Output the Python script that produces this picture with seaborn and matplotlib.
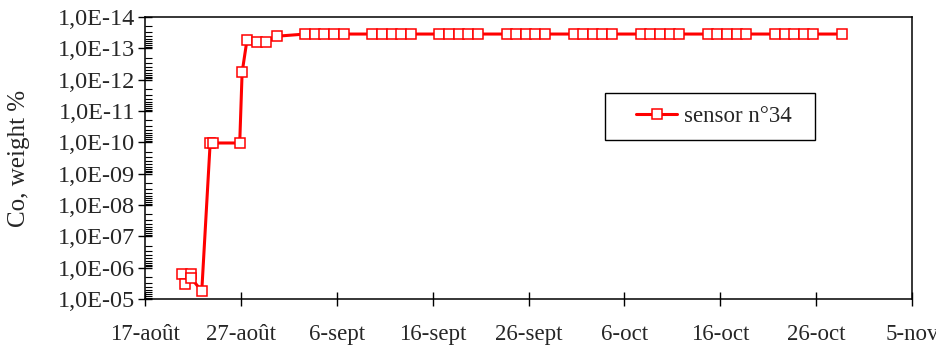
import matplotlib
matplotlib.use("Agg")
import matplotlib.pyplot as plt
import matplotlib.ticker as mticker
from matplotlib.patches import Rectangle
import numpy as np
import pandas as pd
import seaborn as sns

# sampling times and Co content of sensor n°34
sample_times = [
    "2001-08-20 21:00", "2001-08-21 04:00", "2001-08-21 19:00", "2001-08-21 20:00",
    "2001-08-22 22:00", "2001-08-23 19:00", "2001-08-24 02:00", "2001-08-26 21:00",
    "2001-08-27 03:00", "2001-08-27 15:00", "2001-08-28 17:00", "2001-08-29 16:00",
    "2001-08-30 19:00",
    "2001-09-02 17:00", "2001-09-03 17:00", "2001-09-04 17:00", "2001-09-05 17:00", "2001-09-06 17:00",
    "2001-09-09 17:00", "2001-09-10 17:00", "2001-09-11 17:00", "2001-09-12 17:00", "2001-09-13 17:00",
    "2001-09-16 17:00", "2001-09-17 17:00", "2001-09-18 17:00", "2001-09-19 17:00", "2001-09-20 17:00",
    "2001-09-23 17:00", "2001-09-24 17:00", "2001-09-25 17:00", "2001-09-26 17:00", "2001-09-27 17:00",
    "2001-09-30 17:00", "2001-10-01 17:00", "2001-10-02 17:00", "2001-10-03 17:00", "2001-10-04 17:00",
    "2001-10-07 17:00", "2001-10-08 17:00", "2001-10-09 17:00", "2001-10-10 17:00", "2001-10-11 17:00",
    "2001-10-14 17:00", "2001-10-15 17:00", "2001-10-16 17:00", "2001-10-17 17:00", "2001-10-18 17:00",
    "2001-10-21 17:00", "2001-10-22 17:00", "2001-10-23 17:00", "2001-10-24 17:00", "2001-10-25 17:00",
    "2001-10-28 17:00",
]
co_weight = [
    1.58e-6, 3.27e-6, 1.6e-6, 2.2e-6,
    5.6e-6, 1.05e-10, 1.05e-10, 1.05e-10,
    5.9e-13, 5.6e-14, 6.3e-14, 6.3e-14,
    4.1e-14,
    3.5e-14, 3.5e-14, 3.5e-14, 3.5e-14, 3.5e-14,
    3.5e-14, 3.5e-14, 3.5e-14, 3.5e-14, 3.5e-14,
    3.5e-14, 3.5e-14, 3.5e-14, 3.5e-14, 3.5e-14,
    3.5e-14, 3.5e-14, 3.5e-14, 3.5e-14, 3.5e-14,
    3.5e-14, 3.5e-14, 3.5e-14, 3.5e-14, 3.5e-14,
    3.5e-14, 3.5e-14, 3.5e-14, 3.5e-14, 3.5e-14,
    3.5e-14, 3.5e-14, 3.5e-14, 3.5e-14, 3.5e-14,
    3.5e-14, 3.5e-14, 3.5e-14, 3.5e-14, 3.5e-14,
    3.5e-14,
]
tick_dates = ["2001-08-17", "2001-08-27", "2001-09-06", "2001-09-16", "2001-09-26",
              "2001-10-06", "2001-10-16", "2001-10-26", "2001-11-05"]
tick_labels = ["17-août", "27-août", "6-sept", "16-sept", "26-sept",
               "6-oct", "16-oct", "26-oct", "5-nov"]
series_name = "sensor n°34"

df = pd.DataFrame({"date": pd.to_datetime(sample_times), "co": co_weight})

sns.set_style("ticks")
plt.rcParams["font.family"] = ["Liberation Serif", "DejaVu Serif"]
plt.rcParams["font.size"] = 17

fig = plt.figure(figsize=(9.37, 3.49), dpi=100)
ax = fig.add_axes([0.1548, 0.1433, 0.8185, 0.808])

sns.lineplot(data=df, x="date", y="co", ax=ax, estimator=None, sort=False,
             color="#ff0000", linewidth=2.2, marker="s", markersize=7.8,
             markerfacecolor="white", markeredgecolor="#ff0000", markeredgewidth=1.1,
             label=series_name, legend=False)

# log axis, shown in reverse order (1E-05 at the bottom)
ax.set_yscale("log")
ax.set_ylim(1e-5, 1e-14)
ax.yaxis.set_major_locator(mticker.LogLocator(base=10, numticks=20))
ax.yaxis.set_minor_locator(mticker.LogLocator(base=10, subs=np.arange(2, 10), numticks=20))
ax.yaxis.set_major_formatter(mticker.FuncFormatter(
    lambda v, p: "1,0E-%02d" % int(round(-np.log10(v)))))
ax.yaxis.set_minor_formatter(mticker.NullFormatter())

ax.set_xlim(pd.Timestamp(tick_dates[0]), pd.Timestamp(tick_dates[-1]))
ax.set_xticks(pd.to_datetime(tick_dates))
ax.set_xticklabels(tick_labels)
ax.xaxis.set_minor_locator(mticker.NullLocator())

ax.tick_params(axis="both", which="major", direction="inout", length=10, width=1,
               color="black")
ax.tick_params(axis="y", which="minor", direction="in", length=5, width=0.8, color="black")
ax.tick_params(axis="x", which="major", pad=13, labelsize=16.5)
ax.tick_params(axis="y", which="major", pad=2, labelsize=17.5)

for s in ax.spines.values():
    s.set_visible(True)
    s.set_color("black")
    s.set_linewidth(1.1)

ax.set_xlabel("")
ax.set_ylabel("Co, weight %", fontsize=18, labelpad=20)

# legend box drawn as a plain frame with the legend inside
fig.patches.append(Rectangle((605.5 / 937, 1 - 140 / 349), 210 / 937, 47 / 349,
                             transform=fig.transFigure, facecolor="white",
                             edgecolor="black", linewidth=1.0, zorder=3))
handles, labels = ax.get_legend_handles_labels()
leg = fig.legend(handles, labels, loc="center", bbox_to_anchor=(714 / 937, 1 - 116.5 / 349),
                 bbox_transform=fig.transFigure, frameon=False, fontsize=16.5,
                 handlelength=1.8, handletextpad=0.3, borderpad=0.2)
leg.set_zorder(4)

fig.savefig("out.png", dpi=100, facecolor="white")
